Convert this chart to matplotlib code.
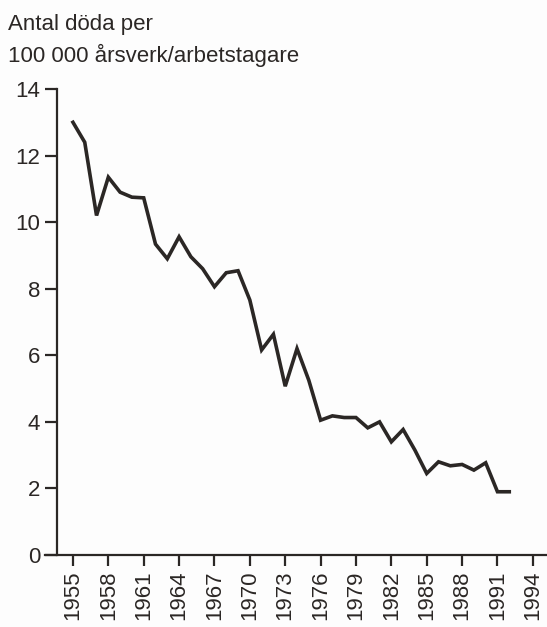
import matplotlib
matplotlib.use('Agg')
import matplotlib.pyplot as plt

# Dödsolyckor i arbetet, antal per 100 000 årsverk/arbetstagare
years = list(range(1955, 1993))
deaths = [13.0, 12.4, 10.2, 11.35, 10.9, 10.75, 10.73, 9.34, 8.9, 9.56,
          8.96, 8.6, 8.06, 8.48, 8.54, 7.66, 6.16, 6.63, 5.07, 6.2,
          5.25, 4.05, 4.18, 4.13, 4.13, 3.82, 4.0, 3.4, 3.77, 3.15,
          2.45, 2.8, 2.68, 2.72, 2.55, 2.77, 1.9, 1.9]
xticks = list(range(1955, 1995, 3))
yticks = [0, 2, 4, 6, 8, 10, 12, 14]

plt.rcParams['font.family'] = ['Liberation Sans', 'DejaVu Sans']
ink = '#2b2725'

fig = plt.figure(figsize=(5.47, 6.27), dpi=100)
fig.patch.set_facecolor('#fdfdfd')
ax = fig.add_axes([45 / 547, 72 / 627, 502 / 547, 466 / 627])
ax.set_facecolor('none')

ax.plot(years, deaths, color=ink, linewidth=2.6, solid_joinstyle='miter')

ax.set_xlim(1952.63, 1995.2)
ax.set_ylim(0, 14)
ax.spines['left'].set_position(('data', 1953.64))
ax.spines['top'].set_visible(False)
ax.spines['right'].set_visible(False)
for s in ['left', 'bottom']:
    ax.spines[s].set_color(ink)
    ax.spines[s].set_linewidth(1.6)

ax.set_xticks(xticks)
ax.set_xticklabels([str(y) for y in xticks], rotation=90)
ax.set_yticks(yticks)
ax.tick_params(axis='x', length=8, width=1.6, color=ink, labelsize=16,
               labelcolor=ink, pad=3)
ax.tick_params(axis='y', length=9, width=1.6, color=ink, labelsize=16,
               labelcolor=ink, pad=3)

fig.text(8 / 547, 1 - 30 / 627, 'Antal döda per', fontsize=16, color=ink,
         va='baseline', ha='left')
fig.text(8 / 547, 1 - 62 / 627, '100 000 årsverk/arbetstagare', fontsize=16,
         color=ink, va='baseline', ha='left')

plt.savefig('out.png', dpi=100, facecolor=fig.get_facecolor())
